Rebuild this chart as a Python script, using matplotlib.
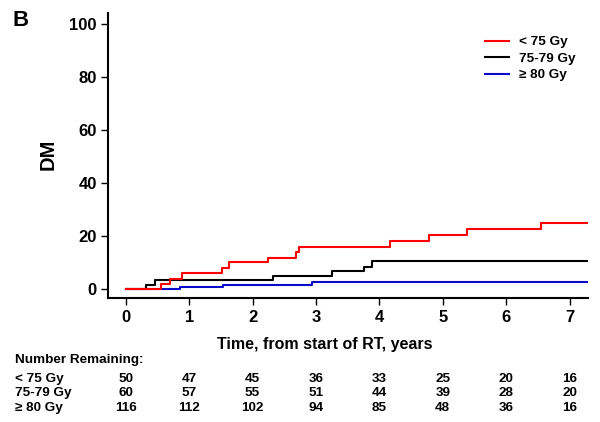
import matplotlib
matplotlib.use("Agg")
import matplotlib.pyplot as plt
from matplotlib.lines import Line2D
from matplotlib.transforms import blended_transform_factory

plt.rcParams['font.family'] = ['Liberation Sans', 'DejaVu Sans']
plt.rcParams['font.weight'] = 'bold'

# Step curves (time in years, cumulative DM %)
red_t = [0, 0.55, 0.69, 0.88, 1.52, 1.63, 2.25, 2.69, 2.74, 4.17, 4.79, 5.38, 6.55, 7.28]
red_y = [0, 1.9, 3.8, 5.9, 7.9, 10.1, 11.8, 14.0, 15.8, 18.1, 20.3, 22.5, 25.0, 25.0]
black_t = [0, 0.32, 0.46, 2.32, 3.26, 3.75, 3.89, 7.28]
black_y = [0, 1.6, 3.4, 4.9, 6.9, 8.4, 10.4, 10.4]
blue_t = [0, 0.85, 1.54, 2.94, 7.28]
blue_y = [0, 0.9, 1.6, 2.5, 2.5]

labels = ["< 75 Gy", "75-79 Gy", "\u2265 80 Gy"]
colors = ["#ff0000", "#000000", "#0a0acc"]

xticks = [0, 1, 2, 3, 4, 5, 6, 7]
yticks = [0, 20, 40, 60, 80, 100]

n_red = [50, 47, 45, 36, 33, 25, 20, 16]
n_black = [60, 57, 55, 51, 44, 39, 28, 20]
n_blue = [116, 112, 102, 94, 85, 48, 36, 16]

fig = plt.figure(figsize=(6, 4.22), dpi=100)
ax = fig.add_axes([108/600, 1-298/422, 480/600, 285/422])

for t, y, c in [(blue_t, blue_y, colors[2]), (black_t, black_y, colors[1]), (red_t, red_y, colors[0])]:
    ax.step(t, y, where='post', color=c, lw=1.5)

ax.set_xlim(-0.28, 7.29)
ax.set_ylim(-3.4, 104.2)
ax.set_xticks(xticks)
ax.set_yticks(yticks)
for s in ['top', 'right']:
    ax.spines[s].set_visible(False)
for s in ['left', 'bottom']:
    ax.spines[s].set_linewidth(1.5)
ax.tick_params(axis='both', direction='out', length=5, width=1, labelsize=12)
ax.tick_params(axis='x', pad=4)
ax.tick_params(axis='y', pad=3)
for lab in ax.get_xticklabels() + ax.get_yticklabels():
    lab.set_fontweight('bold')

ax.set_ylabel("DM", fontsize=14.5, fontweight='bold')
ax.yaxis.set_label_coords((58-108)/480, (298-154)/285)
fig.text(325/600, 1-344/422, "Time, from start of RT, years", ha='center', va='center',
         fontsize=11.5, fontweight='bold')
fig.text(12/600, 1-21/422, "B", ha='left', va='center', fontsize=16, fontweight='bold')

handles = [Line2D([], [], color=c, lw=1.5) for c in colors]
ax.legend(handles, labels, loc='upper left', bbox_to_anchor=((485-108)/480, (298-36)/285),
          frameon=False, prop={'weight': 'bold', 'size': 9.7}, handlelength=1.75,
          handletextpad=0.75, labelspacing=0.3, borderpad=0, borderaxespad=0)

# Number remaining table
tr = blended_transform_factory(ax.transData, fig.transFigure)
fig.text(15/600, 1-360/422, "Number Remaining:", ha='left', va='center', fontsize=9.7, fontweight='bold')
rows_y = [379, 393, 408]
for lab, vals, yy in zip(labels, [n_red, n_black, n_blue], rows_y):
    fig.text(15/600, 1-yy/422, lab, ha='left', va='center', fontsize=9.7, fontweight='bold')
    for x, v in zip(xticks, vals):
        ax.text(x, 1-yy/422, str(v), transform=tr, ha='center', va='center',
                fontsize=9.7, fontweight='bold')

fig.savefig("out.png", dpi=100)
